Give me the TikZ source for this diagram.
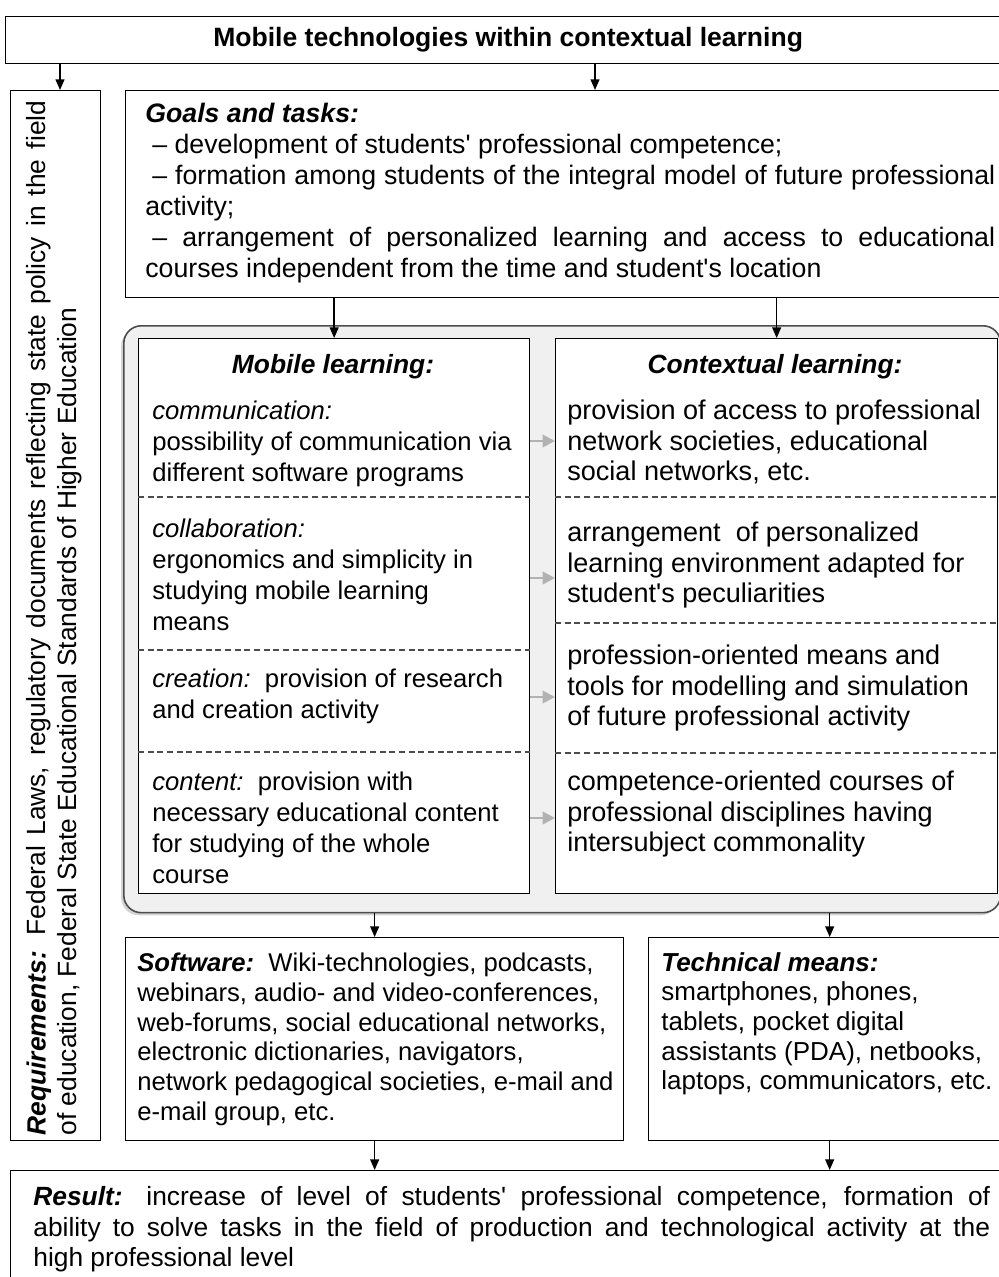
\documentclass[tikz,border=0pt]{standalone}
\usepackage{fontspec}
\setmainfont{Liberation Sans}
\newfontfamily\arialfont{Liberation Sans}
\usetikzlibrary{arrows.meta, shadows}

\newcommand{\fs}[2]{\arialfont\fontsize{#1}{#2}\selectfont}

\begin{document}
\begin{tikzpicture}[x=0.02cm, y=-0.02cm,
  box/.style={draw, fill=white, line width=0.8pt, anchor=north west, inner sep=0pt},
  txt/.style={anchor=north west, inner sep=0pt, align=left, font=\fs{15}{17.4}},
  jtxt/.style={txt, align=justify},
  head/.style={inner sep=0pt, font=\fs{15}{17.4}\bfseries\itshape},
  arr/.style={-{Triangle[length=6pt,width=5pt]}, line width=0.8pt},
  garr/.style={-{Triangle[length=7pt,width=7pt]}, line width=1.5pt, draw=gray!60},
  sep/.style={draw=gray!60!black, line width=0.7pt, dash pattern=on 3.5pt off 2pt},
  region/.style={draw=gray!60!black, line width=0.9pt, fill=gray!12, rounded corners=10pt, anchor=north west, inner sep=0pt,
    drop shadow={shadow xshift=-1.5pt, shadow yshift=-1.5pt, opacity=0.35}},
]
\useasboundingbox (0,0) rectangle (998,1277);

% Frames
\node[box, minimum width=20.1cm, minimum height=0.94cm, font=\fs{15.1}{17.4}\bfseries] (title) at (5,16) {Mobile technologies within contextual learning};
\node[box, minimum width=1.8cm,  minimum height=21cm]   (req)    at (10,90)  {};
\node[box, minimum width=17.7cm, minimum height=4.14cm] (goals)  at (125,90) {};
\node[region, minimum width=17.54cm, minimum height=11.74cm] (region) at (123,325) {};
\node[box, minimum width=7.82cm, minimum height=11.1cm] (mob)    at (138,338) {};
\node[box, minimum width=8.84cm, minimum height=11.1cm] (ctx)    at (555,338) {};
\node[box, minimum width=9.96cm, minimum height=4.06cm] (soft)   at (125,937) {};
\node[box, minimum width=7.24cm, minimum height=4.06cm] (tech)   at (648,937) {};
\node[box, minimum width=20cm,   minimum height=2.4cm]  (result) at (10,1170) {};

% Requirements
\node[jtxt, anchor=center, rotate=90, text width=20.7cm] (reqtext) at (53,618)
  {\strut\textbf{\textit{Requirements:}} Federal Laws, regulatory documents reflecting state policy in the field\linebreak
   of education, Federal State Educational Standards of Higher Education};

% Goals
\node[jtxt, text width=17cm, font=\fs{15.2}{17.6}] (goaltext) at (145,101)
  {\strut\textbf{\textit{Goals and tasks:}}\\
   \hspace*{4pt}– development of students' professional competence;\\
   \hspace*{4pt}– formation among students of the integral model of future professional\linebreak
   activity;\\
   \hspace*{4pt}– arrangement of personalized learning and access to educational\linebreak
   courses independent from the time and student's location};

% Mobile learning
\node[head] (mobhead) at (333,367) {Mobile learning:};
\node[txt, font=\fs{14.6}{17.5}] (comm) at (152,398)
  {\strut\textit{communication:}\\ possibility of communication via\\ different software programs};
\node[txt, font=\fs{14.6}{17.5}] (collab) at (152,516)
  {\strut\textit{collaboration:}\\ ergonomics and simplicity in\\ studying mobile learning\\ means};
\node[txt, font=\fs{14.6}{17.5}] (creat) at (152,666)
  {\strut\textit{creation:}\ \ provision of research\\ and creation activity};
\node[txt, font=\fs{14.6}{17.5}] (cont) at (152,769)
  {\strut\textit{content:}\ \ provision with\\ necessary educational content\\ for studying of the whole\\ course};

\draw[sep] (mob.west |- 0,497) -- (mob.east |- 0,497);
\draw[sep] (mob.west |- 0,650) -- (mob.east |- 0,650);
\draw[sep] (mob.west |- 0,752) -- (mob.east |- 0,752);

% Contextual learning
\node[head] (ctxhead) at (775,367) {Contextual learning:};
\node[txt, font=\fs{15.4}{17.4}] (access) at (567,398)
  {\strut provision of access to professional\\ network societies, educational\\ social networks, etc.};
\node[txt, font=\fs{15.4}{17.4}] (envir) at (567,520)
  {\strut arrangement\ \ of personalized\\ learning environment adapted for\\ student's peculiarities};
\node[txt, font=\fs{15.4}{17.4}] (means) at (567,643)
  {\strut profession-oriented means and\\ tools for modelling and simulation\\ of future professional activity};
\node[txt, font=\fs{15.4}{17.4}] (courses) at (567,769)
  {\strut competence-oriented courses of\\ professional disciplines having\\ intersubject commonality};

\draw[sep] (ctx.west |- 0,497) -- (ctx.east |- 0,497);
\draw[sep] (ctx.west |- 0,623) -- (ctx.east |- 0,623);
\draw[sep] (ctx.west |- 0,753) -- (ctx.east |- 0,753);

\draw[garr] (mob.east |- 0,441) -- (ctx.west |- 0,441);
\draw[garr] (mob.east |- 0,578) -- (ctx.west |- 0,578);
\draw[garr] (mob.east |- 0,697) -- (ctx.west |- 0,697);
\draw[garr] (mob.east |- 0,818) -- (ctx.west |- 0,818);

% Software and technical means
\node[txt, font=\fs{14.6}{17}] (softtext) at (137,950)
  {\strut\textbf{\textit{Software:}}\ \ Wiki-technologies, podcasts,\\ webinars, audio- and video-conferences,\\ web-forums, social educational networks,\\ electronic dictionaries, navigators,\\ network pedagogical societies, e-mail and\\ e-mail group, etc.};
\node[txt, font=\fs{14.8}{16.9}] (techtext) at (661,950)
  {\strut\textbf{\textit{Technical means:}}\\ smartphones, phones,\\ tablets, pocket digital\\ assistants (PDA), netbooks,\\ laptops, communicators, etc.};

% Result
\node[jtxt, text width=19.14cm] (restext) at (33,1184)
  {\strut\textbf{\textit{Result:}} increase of level of students' professional competence, formation of\linebreak
   ability to solve tasks in the field of production and technological activity at the\linebreak
   high professional level};

% Arrows
\draw[arr] (title.south -| 60,0)  -- (req.north -| 60,0);
\draw[arr] (title.south -| 595,0) -- (goals.north -| 595,0);
\draw[arr] (goals.south -| mob.north) -- (mob.north);
\draw[arr] (goals.south -| ctx.north) -- (ctx.north);
\draw[arr] (region.south -| soft.north) -- (soft.north);
\draw[arr] (region.south -| tech.north) -- (tech.north);
\draw[arr] (soft.south) -- (result.north -| soft.south);
\draw[arr] (tech.south) -- (result.north -| tech.south);

\end{tikzpicture}
\end{document}
